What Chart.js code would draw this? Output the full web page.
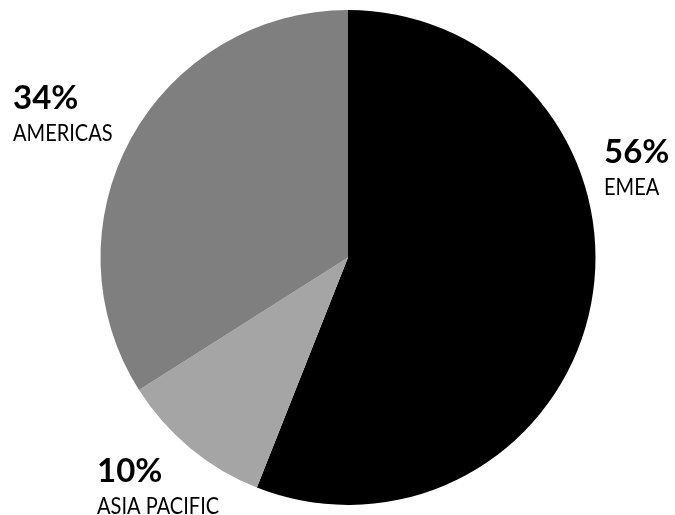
<!DOCTYPE html>
<html>
<head>
<meta charset="utf-8">
<script src="https://cdn.jsdelivr.net/npm/chart.js@4/dist/chart.umd.min.js"></script>
<style>
  html, body { margin: 0; padding: 0; background: #fff; }
  #wrap { width: 675px; height: 515px; }
</style>
</head>
<body>
<div id="wrap"><canvas id="regionPie"></canvas></div>
<script>
// regional split, clockwise from 12 o'clock
var regiones = ["EMEA", "ASIA PACIFIC", "AMERICAS"];
var porcentajes = [56, 10, 34];
var colores = ["#000000", "#a5a5a5", "#7f7f7f"];

// where each label block sits (left x, baseline of the percentage)
var posEtiquetas = [
  { x: 604, y: 163 },
  { x: 97, y: 482 },
  { x: 13, y: 109 }
];

var etiquetasPlugin = {
  id: "etiquetas",
  afterDraw: function (chart) {
    var ctx = chart.ctx;
    ctx.save();
    ctx.fillStyle = "#000";
    ctx.textAlign = "left";
    ctx.textBaseline = "alphabetic";
    for (var i = 0; i < regiones.length; i++) {
      var p = posEtiquetas[i];
      ctx.font = "bold 33px Lato";
      ctx.fillText(porcentajes[i] + "%", p.x, p.y);
      // region name: tall, slightly condensed caps
      ctx.save();
      ctx.translate(p.x, p.y + 32);
      ctx.scale(0.87, 1);
      ctx.font = "23px Lato";
      ctx.fillText(regiones[i], 0, 0);
      ctx.restore();
    }
    ctx.restore();
  }
};

new Chart(document.getElementById("regionPie"), {
  type: "pie",
  data: {
    labels: regiones,
    datasets: [{
      data: porcentajes,
      backgroundColor: colores,
      borderWidth: 0
    }]
  },
  options: {
    responsive: true,
    maintainAspectRatio: false,
    animation: false,
    layout: { padding: { left: 100, right: 79, top: 10, bottom: 10 } },
    plugins: {
      legend: { display: false },
      tooltip: { enabled: false }
    }
  },
  plugins: [etiquetasPlugin]
});
</script>
</body>
</html>
